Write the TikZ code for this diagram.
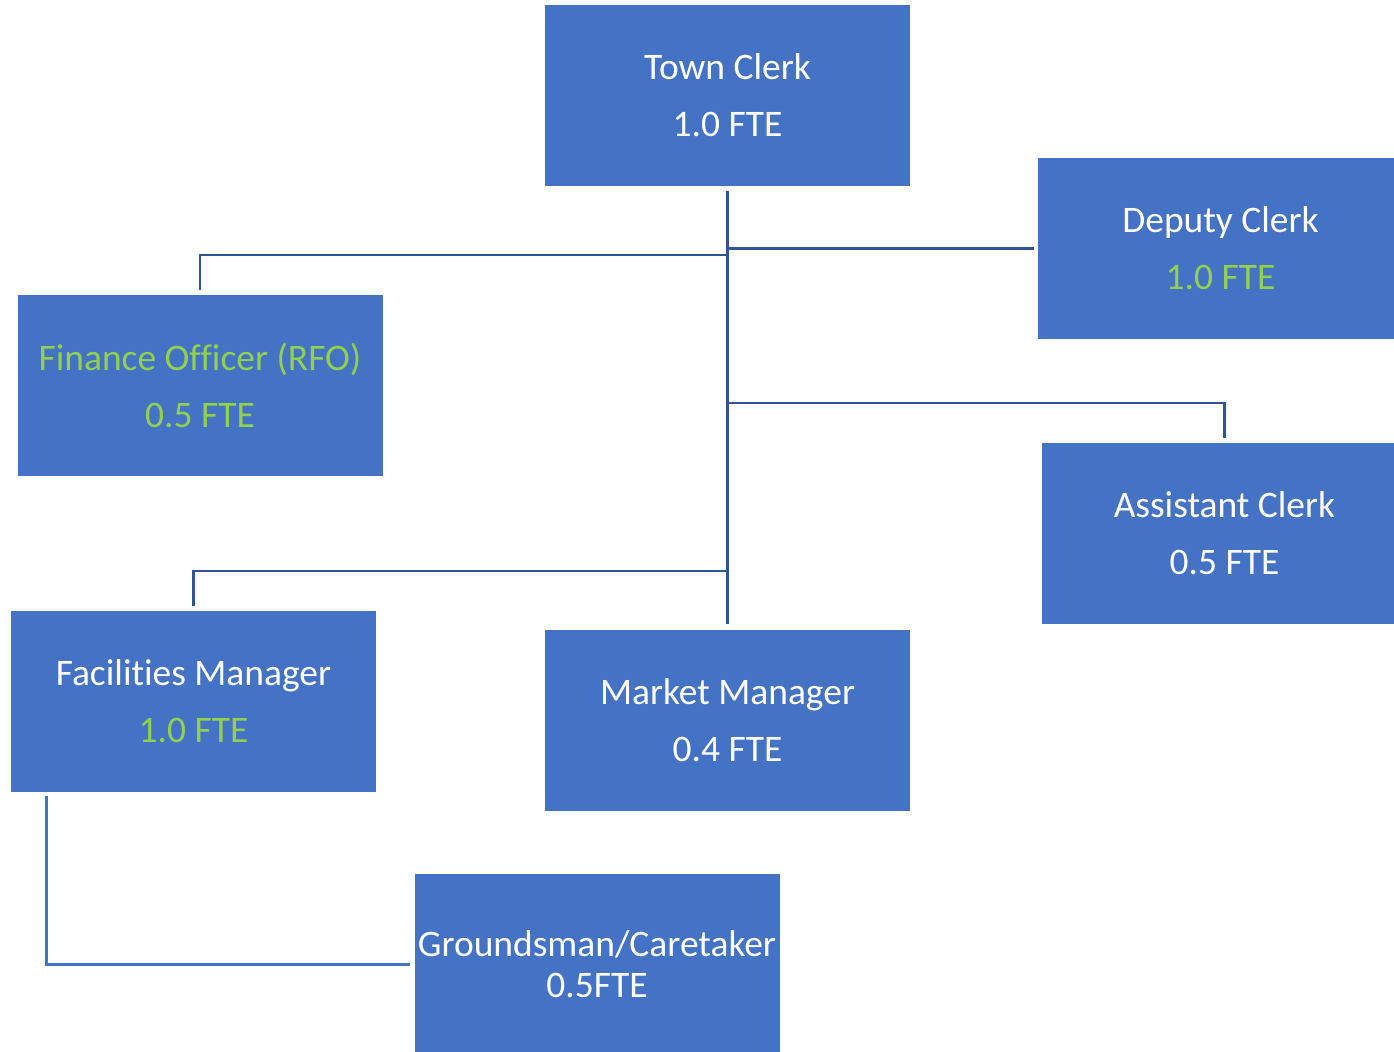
\documentclass[tikz,border=0pt]{standalone}
\usepackage{fontspec}
\setmainfont{Carlito}[Ligatures=NoCommon]
\usetikzlibrary{positioning}
\definecolor{boxblue}{HTML}{4472C4}
\definecolor{linkblue}{HTML}{2F5597}
\definecolor{fteg}{HTML}{92D050}
\tikzset{
	post/.style={fill=boxblue, text=white, minimum width=273.75pt, minimum height=135.75pt,
		inner sep=0pt, align=center, font=\fontsize{28.1}{42.75}\selectfont},
	link/.style={draw=linkblue, line width=2pt},
}
\newcommand{\grn}[1]{\textcolor{fteg}{#1}}
\begin{document}
\begin{tikzpicture}[x=0.75pt, y=-0.75pt]
	\useasboundingbox (0,0) rectangle (1394,1051);
	\clip (0,0) rectangle (1394,1051);
	\node[post] (tc) at (727.5,95) {Town Clerk\\1.0 FTE};
	\node[post] (dc) at (1220.5,248.5) {Deputy Clerk\\\grn{1.0 FTE}};
	\node[post] (fo) at (200,385) {\grn{Finance Officer (RFO)}\\\grn{0.5 FTE}};
	\node[post] (ac) at (1224.5,533) {Assistant Clerk\\0.5 FTE};
	\node[post] (fm) at (193.5,701) {Facilities Manager\\\grn{1.0 FTE}};
	\node[post] (mm) at (727.5,720.5) {Market Manager\\0.4 FTE};
	\node[post, font=\fontsize{28.1}{30.75}\selectfont] (gc) at (597,964.5) {Groundsman/Caretaker\\0.5FTE};
	% joints on the trunk
	\coordinate (jf) at (728,255);
	\coordinate (ja) at (728,403);
	\coordinate (jm) at (728,571);
	\draw[link, shorten <=4pt, shorten >=4pt] (tc.south) -- (mm.north);
	\draw[link, shorten >=3pt] (tc.south |- dc.west) -- (dc.west);
	\draw[link, shorten >=3pt] (jf) -| (fo.north);
	\draw[link, shorten >=3pt] (ja) -| (ac.north);
	\draw[link, shorten >=3pt] (jm) -| (fm.north);
	\draw[draw=boxblue, line width=2pt, shorten <=3pt, shorten >=3pt] ([xshift=27pt]fm.south west) |- (gc.west);
\end{tikzpicture}
\end{document}
